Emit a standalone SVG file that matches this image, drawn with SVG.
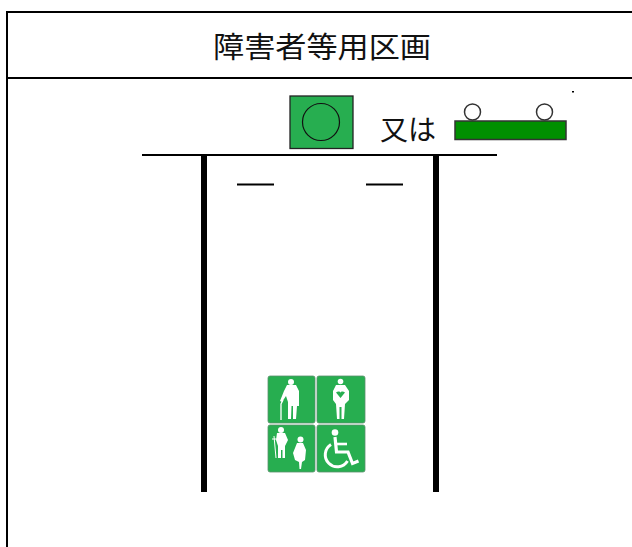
<svg xmlns="http://www.w3.org/2000/svg" width="632" height="547" viewBox="0 0 632 547">
<style>
.t{font-family:"Noto Sans CJK JP","Noto Sans CJK SC",sans-serif;fill:#111}
.ln{stroke:#000;fill:none}
.tile{fill:#27ae50;stroke:#5c8f6c;stroke-width:.8}
.hole{fill:#27ae50}
.w{fill:#fff}
.ws{stroke:#fff;fill:none}
</style>
<rect width="632" height="547" fill="#fff"/>
<g id="frame" class="ln" stroke-width="2"><path d="M632 12H7V547"/><path d="M7 78H632"/></g>
<g id="title"><text class="t" x="213" y="57.500" font-size="29" textLength="218" lengthAdjust="spacingAndGlyphs">障害者等用区画</text></g>
<g id="sign-square"><rect x="290" y="96" width="63" height="52.500" fill="#27ae50" stroke="#222" stroke-width="1.300"/><circle cx="321" cy="122" r="18.500" fill="none" stroke="#111" stroke-width="1.200"/></g>
<g id="or-label"><text class="t" x="380" y="140" font-size="28">又は</text></g>
<g id="sign-bar">
<circle cx="472.500" cy="112" r="8" fill="#fff" stroke="#333" stroke-width="1.500"/>
<circle cx="544.500" cy="112" r="8" fill="#fff" stroke="#333" stroke-width="1.500"/>
<rect x="455" y="121" width="111" height="18.500" fill="#009000" stroke="#333" stroke-width="1.500"/>
<rect x="572" y="91" width="2" height="1.500" fill="#000"/>
</g>
<g id="parking-lines">
<path class="ln" stroke-width="2" d="M142 155H497"/>
<path class="ln" stroke-width="6" d="M204 155V492M436 155V492"/>
<path class="ln" stroke-width="2" d="M237 184.500H274M366 184.500H403"/>
</g>
<g id="icon-elder">
<rect class="tile" x="268" y="376" width="47" height="47" rx="2"/>
<circle class="w" cx="291" cy="382" r="3"/>
<path class="w" d="M287 385H296L299 391V406H297L296 419H293V406H291.500L291 419H288V402L286 396L282 402L280 401L284 391Z"/>
<path class="ws" stroke-width="1.300" d="M283 400L281 404V420"/>
</g>
<g id="icon-heart">
<rect class="tile" x="317" y="376" width="48" height="47" rx="2"/>
<circle class="w" cx="340.500" cy="381.500" r="2.800"/>
<path class="w" d="M336 385H345L349 391V400L345 404L344 419H341.500V407H339.500V419H337L336 404L333 400V391Z"/>
<path class="hole" d="M340.500 398L336 392.500C337.500 391 340 391 340.500 392.500C341 391 343.500 391 345 392.500Z"/>
</g>
<g id="icon-crutch-pregnant">
<rect class="tile" x="268" y="425" width="47" height="47" rx="2"/>
<circle class="w" cx="281" cy="430" r="3"/>
<path class="w" d="M277 433H285L288 440L285 446V458H282.500V450H281V458H278V446L276 440Z"/>
<path class="ws" stroke-width="1" d="M274 436L276 458M272 439H277"/>
<circle class="w" cx="300.500" cy="439.500" r="3"/>
<path class="w" d="M297 443H303L306 450L305 460L302 462L301 469H299.500L299 462L295 460L293 453Z"/>
</g>
<g id="icon-wheelchair">
<rect class="tile" x="317" y="425" width="48" height="47" rx="2"/>
<circle class="w" cx="335" cy="432.500" r="3.300"/>
<path class="ws" stroke-width="3.200" d="M335 437L336.500 452H348L352.500 463.500L358.500 461"/>
<path class="ws" stroke-width="2.600" d="M337 444H347"/>
<path class="ws" stroke-width="3" d="M331 444.500A12 12 0 1 0 347.500 461"/>
</g>
</svg>
